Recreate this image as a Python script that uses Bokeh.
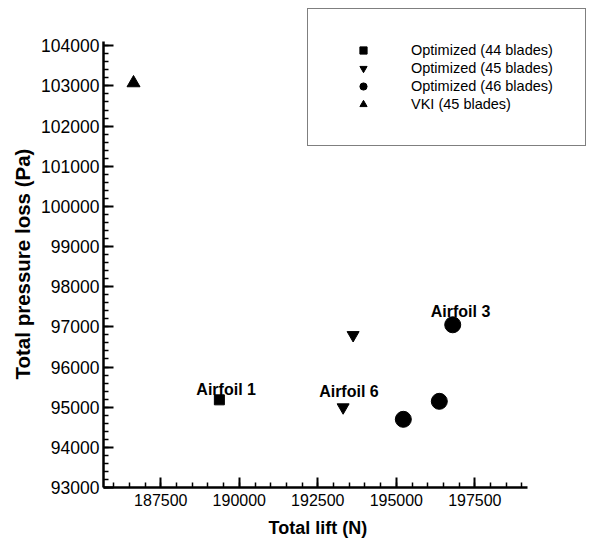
from bokeh.plotting import figure
from bokeh.models import (Legend, LegendItem, SingleIntervalTicker, BasicTickFormatter,
                          Range1d, ColumnDataSource, Title)
from bokeh.core.properties import value
from bokeh.embed import file_html
from bokeh.resources import INLINE

# ---- data ----
lift_44 = [189365]
loss_44 = [95183]
lift_45 = [193306, 193624]
loss_45 = [94997, 96796]
lift_46 = [195223, 196369, 196796]
loss_46 = [94698, 95146, 97052]
lift_vki = [186631]
loss_vki = [103073]

series_names = ["Optimized (44 blades)", "Optimized (45 blades)",
                "Optimized (46 blades)", "VKI (45 blades)"]
x_label = "Total lift (N)"
y_label = "Total pressure loss (Pa)"

# axis extents (drawn part of the axes)
x_axis_bounds = (185675, 199180)
y_axis_bounds = (93000, 104100)

FONT = "Liberation Sans"

# the frame is larger than the drawn axes so the legend box (which sits
# above / right of the axes) is not clipped
p = figure(width=589, height=545, output_backend="svg", toolbar_location=None,
           x_range=Range1d(185675, 201120), y_range=Range1d(93000, 104978),
           min_border_left=103, min_border_right=1, min_border_top=6,
           min_border_bottom=57,
           background_fill_color="white", border_fill_color="white")
p.outline_line_color = None
p.xgrid.visible = False
p.ygrid.visible = False

p.xaxis.ticker = SingleIntervalTicker(interval=2500, num_minor_ticks=5)
p.yaxis.ticker = SingleIntervalTicker(interval=1000, num_minor_ticks=5)
p.xaxis.bounds = x_axis_bounds
p.yaxis.bounds = y_axis_bounds
for ax in (p.xaxis[0], p.yaxis[0]):
    ax.formatter = BasicTickFormatter(use_scientific=False)
    ax.axis_line_width = 2.5
    ax.axis_line_color = "black"
    ax.major_tick_in = 10
    ax.major_tick_out = 0
    ax.minor_tick_in = 5
    ax.minor_tick_out = 0
    ax.major_tick_line_width = 2
    ax.minor_tick_line_width = 1.5
    ax.major_tick_line_color = "black"
    ax.minor_tick_line_color = "black"
    ax.major_label_text_font = FONT
    ax.major_label_text_color = "black"
p.xaxis.major_label_text_font_size = "16px"
p.yaxis.major_label_text_font_size = "17.5px"
p.xaxis.major_label_standoff = 6
p.yaxis.major_label_standoff = 4

# axis titles as panel titles, so they can be centred on the drawn axes
# rather than on the (enlarged) frame
p.add_layout(Title(text=x_label, align="left", offset=165, standoff=15,
                   text_font=FONT, text_font_size="18px", text_font_style="bold",
                   text_color="black"), "below")
p.add_layout(Title(text=y_label, align="left", offset=108, standoff=9,
                   text_font=FONT, text_font_size="20.5px", text_font_style="bold",
                   text_color="black"), "left")

src44 = ColumnDataSource(dict(x=lift_44, y=loss_44))
src45 = ColumnDataSource(dict(x=lift_45, y=loss_45))
src46 = ColumnDataSource(dict(x=lift_46, y=loss_46))
srcvki = ColumnDataSource(dict(x=lift_vki, y=loss_vki))

r44 = p.scatter("x", "y", source=src44, marker="square", size=10,
                fill_color="black", line_color="black")
r45 = p.scatter("x", "y", source=src45, marker="inverted_triangle", size=12,
                fill_color="black", line_color="black")
r46 = p.scatter("x", "y", source=src46, marker="circle", size=16,
                fill_color="black", line_color="black")
rvki = p.scatter("x", "y", source=srcvki, marker="triangle", size=13,
                 fill_color="black", line_color="black")

# point annotations: (text, x-list, y-list, index, pixel offset dx, dy)
annotations = [("Airfoil 1", lift_44, loss_44, 0, -23, -10),
               ("Airfoil 6", lift_45, loss_45, 0, -24, -16),
               ("Airfoil 3", lift_46, loss_46, 2, -22, -13)]
for txt, xs, ys, i, dx, dy in annotations:
    p.text(x=[xs[i]], y=[ys[i]], text=[txt], x_offset=dx, y_offset=dy,
           text_font=value(FONT), text_font_style="bold", text_font_size="16px",
           text_align="left", text_baseline="alphabetic", text_color="black")

legend = Legend(items=[LegendItem(label=series_names[0], renderers=[r44]),
                       LegendItem(label=series_names[1], renderers=[r45]),
                       LegendItem(label=series_names[2], renderers=[r46]),
                       LegendItem(label=series_names[3], renderers=[rvki])],
                location=(204, 341), margin=0, padding=32,
                glyph_width=46, glyph_height=18, label_height=18, spacing=0,
                label_standoff=25, label_text_font=FONT, label_text_font_size="14.5px",
                label_text_color="black", border_line_color="black",
                border_line_width=1.2, background_fill_color="white",
                background_fill_alpha=1.0)
p.add_layout(legend, "center")

open("out.html", "w").write(file_html(p, INLINE))
